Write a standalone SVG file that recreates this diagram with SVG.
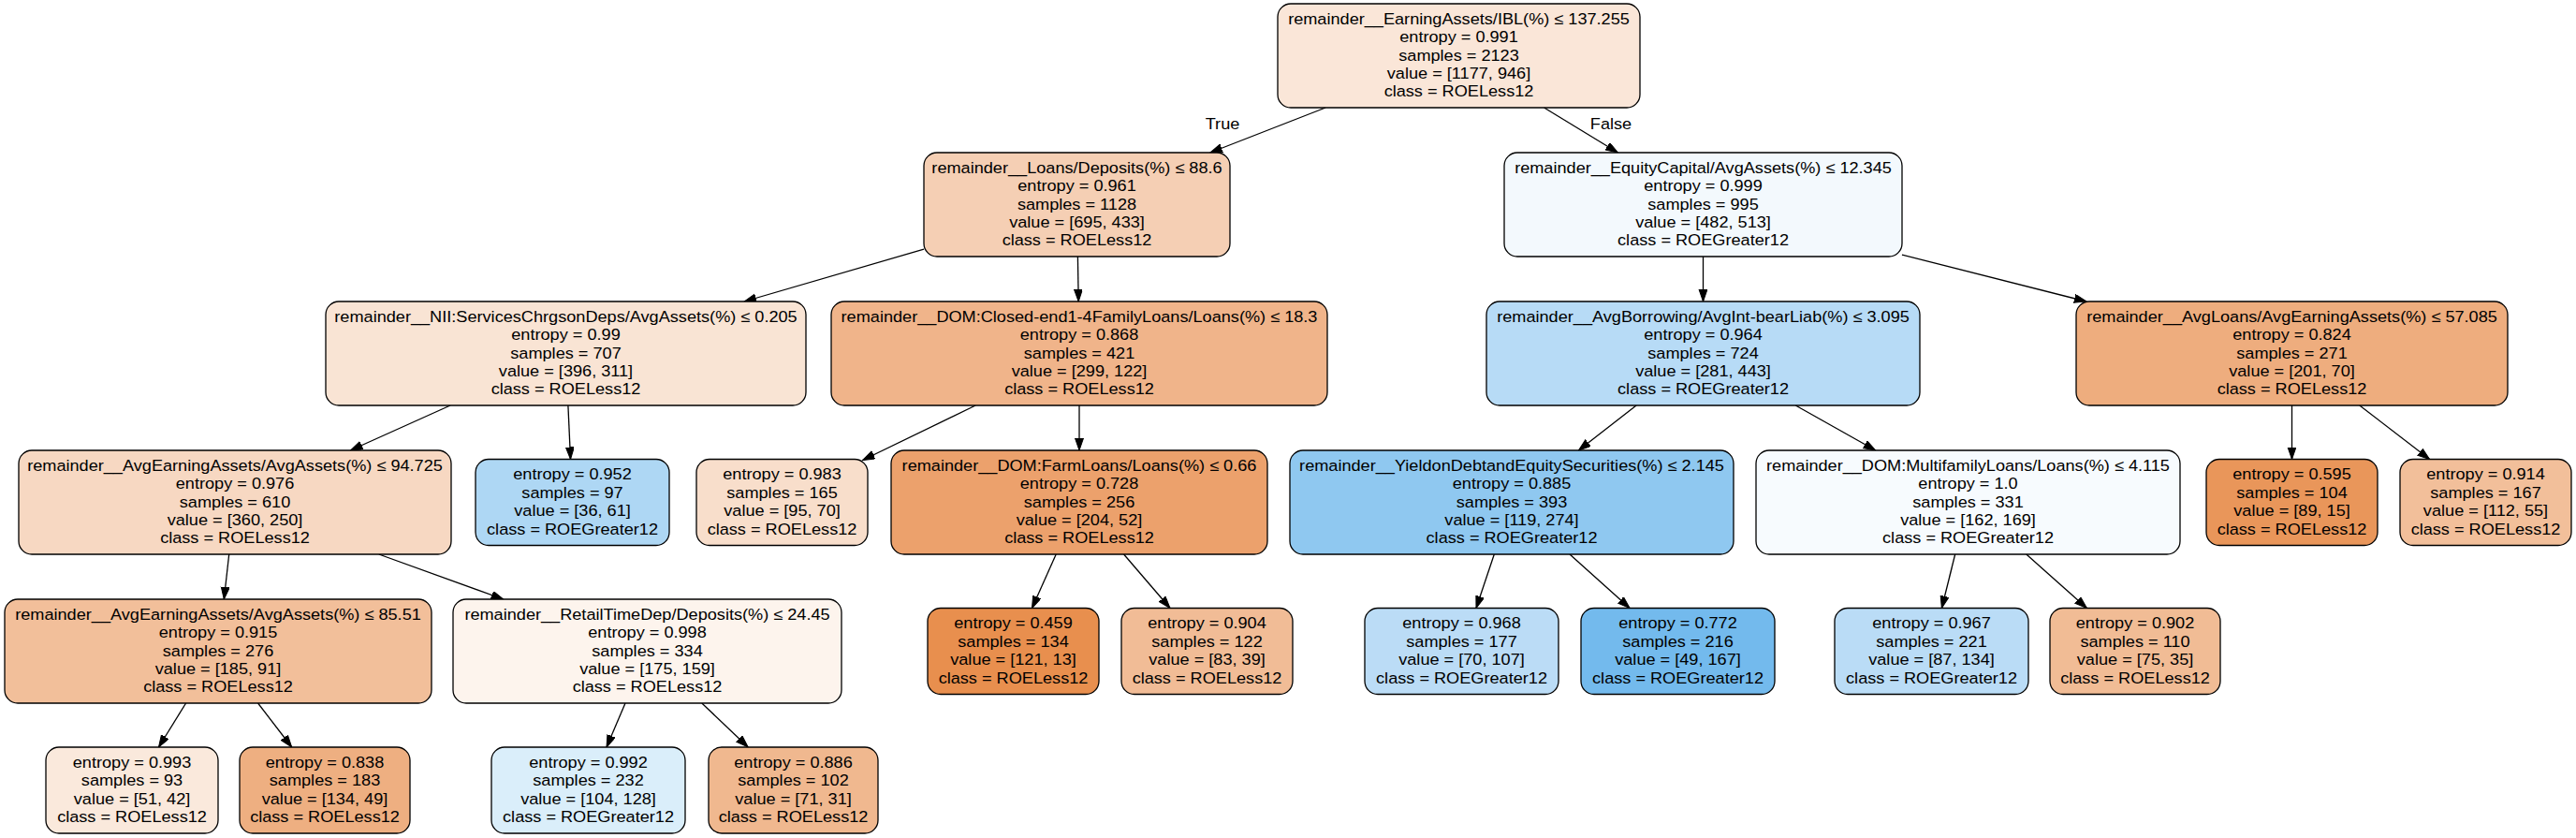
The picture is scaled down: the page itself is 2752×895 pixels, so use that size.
<svg xmlns="http://www.w3.org/2000/svg" width="2752" height="895" viewBox="0 0 2752 895">
<style>
.bx{stroke:#000;stroke-width:1.3}
.t{font-family:"Liberation Sans",Arial,Helvetica,sans-serif;font-size:16.5px;fill:#000;text-anchor:middle}
.e{stroke:#000;stroke-width:1.3;fill:none;marker-end:url(#ah)}
</style>
<defs>
<marker id="ah" markerUnits="userSpaceOnUse" markerWidth="14" markerHeight="10" refX="13" refY="4.5" orient="auto">
<path d="M0,0 L13,4.5 L0,9 z" fill="#000" stroke="#000" stroke-width="1"/>
</marker>
</defs>
<rect width="2752" height="895" fill="#fff"/>
<g id="edges">
<line class="e" x1="1416.1" y1="115" x2="1292.9" y2="163"/>
<line class="e" x1="1649.6" y1="115" x2="1728.4" y2="163"/>
<line class="e" x1="987" y1="266.1" x2="795.1" y2="322"/>
<line class="e" x1="1151.4" y1="274" x2="1152.2" y2="322"/>
<line class="e" x1="1819.5" y1="274" x2="1819.5" y2="322"/>
<line class="e" x1="2032" y1="272.2" x2="2228.9" y2="322"/>
<line class="e" x1="481.1" y1="433" x2="374.4" y2="481"/>
<line class="e" x1="606.9" y1="433" x2="609.5" y2="490.5"/>
<line class="e" x1="1042.2" y1="433" x2="921.5" y2="491.5"/>
<line class="e" x1="1153" y1="433" x2="1153" y2="481"/>
<line class="e" x1="1748.1" y1="433" x2="1686.4" y2="481"/>
<line class="e" x1="1918.3" y1="433" x2="2003.7" y2="481"/>
<line class="e" x1="2448.5" y1="433" x2="2448.5" y2="490.5"/>
<line class="e" x1="2520.8" y1="433" x2="2595.6" y2="490.5"/>
<line class="e" x1="244.7" y1="592" x2="239.3" y2="640"/>
<line class="e" x1="404.8" y1="592" x2="537.7" y2="640"/>
<line class="e" x1="1128.2" y1="592" x2="1102.5" y2="649.5"/>
<line class="e" x1="1200.6" y1="592" x2="1250" y2="649.5"/>
<line class="e" x1="1596.3" y1="592" x2="1577" y2="649.5"/>
<line class="e" x1="1677" y1="592" x2="1741.1" y2="649.5"/>
<line class="e" x1="2088.7" y1="592" x2="2074.4" y2="649.5"/>
<line class="e" x1="2164.8" y1="592" x2="2229.4" y2="649.5"/>
<line class="e" x1="198.6" y1="751" x2="169.5" y2="798"/>
<line class="e" x1="275.6" y1="751" x2="311.7" y2="798"/>
<line class="e" x1="668" y1="751" x2="648" y2="798"/>
<line class="e" x1="749.8" y1="751" x2="799.2" y2="798"/>
<text class="t" transform="translate(1306,137.5) scale(1.1 1)">True</text>
<text class="t" transform="translate(1721,137.5) scale(1.1 1)">False</text>
</g>

<g id="n0" transform="translate(1558.5,59.5)">
<rect class="bx" x="-193.5" y="-55.5" width="387" height="111" rx="14" fill="#fae6d8"/>
<text class="t" transform="scale(1.1 1)"><tspan x="0" y="-33.8">remainder__EarningAssets/IBL(%) ≤ 137.255</tspan><tspan x="0" y="-14.4">entropy = 0.991</tspan><tspan x="0" y="5">samples = 2123</tspan><tspan x="0" y="24.4">value = [1177, 946]</tspan><tspan x="0" y="43.8">class = ROELess12</tspan></text>
</g>

<g id="n1" transform="translate(1150.5,218.5)">
<rect class="bx" x="-163.5" y="-55.5" width="327" height="111" rx="14" fill="#f5cfb4"/>
<text class="t" transform="scale(1.1 1)"><tspan x="0" y="-33.8">remainder__Loans/Deposits(%) ≤ 88.6</tspan><tspan x="0" y="-14.4">entropy = 0.961</tspan><tspan x="0" y="5">samples = 1128</tspan><tspan x="0" y="24.4">value = [695, 433]</tspan><tspan x="0" y="43.8">class = ROELess12</tspan></text>
</g>

<g id="n16" transform="translate(1819.5,218.5)">
<rect class="bx" x="-212.5" y="-55.5" width="425" height="111" rx="14" fill="#f3f9fd"/>
<text class="t" transform="scale(1.1 1)"><tspan x="0" y="-33.8">remainder__EquityCapital/AvgAssets(%) ≤ 12.345</tspan><tspan x="0" y="-14.4">entropy = 0.999</tspan><tspan x="0" y="5">samples = 995</tspan><tspan x="0" y="24.4">value = [482, 513]</tspan><tspan x="0" y="43.8">class = ROEGreater12</tspan></text>
</g>

<g id="n2" transform="translate(604.5,377.5)">
<rect class="bx" x="-256.5" y="-55.5" width="513" height="111" rx="14" fill="#f9e4d4"/>
<text class="t" transform="scale(1.1 1)"><tspan x="0" y="-33.8">remainder__NII:ServicesChrgsonDeps/AvgAssets(%) ≤ 0.205</tspan><tspan x="0" y="-14.4">entropy = 0.99</tspan><tspan x="0" y="5">samples = 707</tspan><tspan x="0" y="24.4">value = [396, 311]</tspan><tspan x="0" y="43.8">class = ROELess12</tspan></text>
</g>

<g id="n11" transform="translate(1153,377.5)">
<rect class="bx" x="-265" y="-55.5" width="530" height="111" rx="14" fill="#f0b48a"/>
<text class="t" transform="scale(1.1 1)"><tspan x="0" y="-33.8">remainder__DOM:Closed-end1-4FamilyLoans/Loans(%) ≤ 18.3</tspan><tspan x="0" y="-14.4">entropy = 0.868</tspan><tspan x="0" y="5">samples = 421</tspan><tspan x="0" y="24.4">value = [299, 122]</tspan><tspan x="0" y="43.8">class = ROELess12</tspan></text>
</g>

<g id="n17" transform="translate(1819.5,377.5)">
<rect class="bx" x="-231.5" y="-55.5" width="463" height="111" rx="14" fill="#b7dbf6"/>
<text class="t" transform="scale(1.1 1)"><tspan x="0" y="-33.8">remainder__AvgBorrowing/AvgInt-bearLiab(%) ≤ 3.095</tspan><tspan x="0" y="-14.4">entropy = 0.964</tspan><tspan x="0" y="5">samples = 724</tspan><tspan x="0" y="24.4">value = [281, 443]</tspan><tspan x="0" y="43.8">class = ROEGreater12</tspan></text>
</g>

<g id="n24" transform="translate(2448.5,377.5)">
<rect class="bx" x="-230.5" y="-55.5" width="461" height="111" rx="14" fill="#eead7e"/>
<text class="t" transform="scale(1.1 1)"><tspan x="0" y="-33.8">remainder__AvgLoans/AvgEarningAssets(%) ≤ 57.085</tspan><tspan x="0" y="-14.4">entropy = 0.824</tspan><tspan x="0" y="5">samples = 271</tspan><tspan x="0" y="24.4">value = [201, 70]</tspan><tspan x="0" y="43.8">class = ROELess12</tspan></text>
</g>

<g id="n3" transform="translate(251,536.5)">
<rect class="bx" x="-231" y="-55.5" width="462" height="111" rx="14" fill="#f7d8c2"/>
<text class="t" transform="scale(1.1 1)"><tspan x="0" y="-33.8">remainder__AvgEarningAssets/AvgAssets(%) ≤ 94.725</tspan><tspan x="0" y="-14.4">entropy = 0.976</tspan><tspan x="0" y="5">samples = 610</tspan><tspan x="0" y="24.4">value = [360, 250]</tspan><tspan x="0" y="43.8">class = ROELess12</tspan></text>
</g>

<g id="n10" transform="translate(611.5,536.5)">
<rect class="bx" x="-103.5" y="-46" width="207" height="92" rx="14" fill="#aed7f4"/>
<text class="t" transform="scale(1.1 1)"><tspan x="0" y="-24.1">entropy = 0.952</tspan><tspan x="0" y="-4.7">samples = 97</tspan><tspan x="0" y="14.7">value = [36, 61]</tspan><tspan x="0" y="34.1">class = ROEGreater12</tspan></text>
</g>

<g id="n12" transform="translate(835.5,536.5)">
<rect class="bx" x="-91.5" y="-46" width="183" height="92" rx="14" fill="#f8decb"/>
<text class="t" transform="scale(1.1 1)"><tspan x="0" y="-24.1">entropy = 0.983</tspan><tspan x="0" y="-4.7">samples = 165</tspan><tspan x="0" y="14.7">value = [95, 70]</tspan><tspan x="0" y="34.1">class = ROELess12</tspan></text>
</g>

<g id="n13" transform="translate(1153,536.5)">
<rect class="bx" x="-201" y="-55.5" width="402" height="111" rx="14" fill="#eca16c"/>
<text class="t" transform="scale(1.1 1)"><tspan x="0" y="-33.8">remainder__DOM:FarmLoans/Loans(%) ≤ 0.66</tspan><tspan x="0" y="-14.4">entropy = 0.728</tspan><tspan x="0" y="5">samples = 256</tspan><tspan x="0" y="24.4">value = [204, 52]</tspan><tspan x="0" y="43.8">class = ROELess12</tspan></text>
</g>

<g id="n18" transform="translate(1615,536.5)">
<rect class="bx" x="-237" y="-55.5" width="474" height="111" rx="14" fill="#8fc8f0"/>
<text class="t" transform="scale(1.1 1)"><tspan x="0" y="-33.8">remainder__YieldonDebtandEquitySecurities(%) ≤ 2.145</tspan><tspan x="0" y="-14.4">entropy = 0.885</tspan><tspan x="0" y="5">samples = 393</tspan><tspan x="0" y="24.4">value = [119, 274]</tspan><tspan x="0" y="43.8">class = ROEGreater12</tspan></text>
</g>

<g id="n21" transform="translate(2102.5,536.5)">
<rect class="bx" x="-226.5" y="-55.5" width="453" height="111" rx="14" fill="#f7fbfe"/>
<text class="t" transform="scale(1.1 1)"><tspan x="0" y="-33.8">remainder__DOM:MultifamilyLoans/Loans(%) ≤ 4.115</tspan><tspan x="0" y="-14.4">entropy = 1.0</tspan><tspan x="0" y="5">samples = 331</tspan><tspan x="0" y="24.4">value = [162, 169]</tspan><tspan x="0" y="43.8">class = ROEGreater12</tspan></text>
</g>

<g id="n25" transform="translate(2448.5,536.5)">
<rect class="bx" x="-91.5" y="-46" width="183" height="92" rx="14" fill="#e9965a"/>
<text class="t" transform="scale(1.1 1)"><tspan x="0" y="-24.1">entropy = 0.595</tspan><tspan x="0" y="-4.7">samples = 104</tspan><tspan x="0" y="14.7">value = [89, 15]</tspan><tspan x="0" y="34.1">class = ROELess12</tspan></text>
</g>

<g id="n26" transform="translate(2655.5,536.5)">
<rect class="bx" x="-91.5" y="-46" width="183" height="92" rx="14" fill="#f2bf9a"/>
<text class="t" transform="scale(1.1 1)"><tspan x="0" y="-24.1">entropy = 0.914</tspan><tspan x="0" y="-4.7">samples = 167</tspan><tspan x="0" y="14.7">value = [112, 55]</tspan><tspan x="0" y="34.1">class = ROELess12</tspan></text>
</g>

<g id="n4" transform="translate(233,695.5)">
<rect class="bx" x="-228" y="-55.5" width="456" height="111" rx="14" fill="#f2bf9a"/>
<text class="t" transform="scale(1.1 1)"><tspan x="0" y="-33.8">remainder__AvgEarningAssets/AvgAssets(%) ≤ 85.51</tspan><tspan x="0" y="-14.4">entropy = 0.915</tspan><tspan x="0" y="5">samples = 276</tspan><tspan x="0" y="24.4">value = [185, 91]</tspan><tspan x="0" y="43.8">class = ROELess12</tspan></text>
</g>

<g id="n7" transform="translate(691.5,695.5)">
<rect class="bx" x="-207.5" y="-55.5" width="415" height="111" rx="14" fill="#fdf4ed"/>
<text class="t" transform="scale(1.1 1)"><tspan x="0" y="-33.8">remainder__RetailTimeDep/Deposits(%) ≤ 24.45</tspan><tspan x="0" y="-14.4">entropy = 0.998</tspan><tspan x="0" y="5">samples = 334</tspan><tspan x="0" y="24.4">value = [175, 159]</tspan><tspan x="0" y="43.8">class = ROELess12</tspan></text>
</g>

<g id="n14" transform="translate(1082.5,695.5)">
<rect class="bx" x="-91.5" y="-46" width="183" height="92" rx="14" fill="#e88f4e"/>
<text class="t" transform="scale(1.1 1)"><tspan x="0" y="-24.1">entropy = 0.459</tspan><tspan x="0" y="-4.7">samples = 134</tspan><tspan x="0" y="14.7">value = [121, 13]</tspan><tspan x="0" y="34.1">class = ROELess12</tspan></text>
</g>

<g id="n15" transform="translate(1289.5,695.5)">
<rect class="bx" x="-91.5" y="-46" width="183" height="92" rx="14" fill="#f1bc96"/>
<text class="t" transform="scale(1.1 1)"><tspan x="0" y="-24.1">entropy = 0.904</tspan><tspan x="0" y="-4.7">samples = 122</tspan><tspan x="0" y="14.7">value = [83, 39]</tspan><tspan x="0" y="34.1">class = ROELess12</tspan></text>
</g>

<g id="n19" transform="translate(1561.5,695.5)">
<rect class="bx" x="-103.5" y="-46" width="207" height="92" rx="14" fill="#bbdcf6"/>
<text class="t" transform="scale(1.1 1)"><tspan x="0" y="-24.1">entropy = 0.968</tspan><tspan x="0" y="-4.7">samples = 177</tspan><tspan x="0" y="14.7">value = [70, 107]</tspan><tspan x="0" y="34.1">class = ROEGreater12</tspan></text>
</g>

<g id="n20" transform="translate(1792.5,695.5)">
<rect class="bx" x="-103.5" y="-46" width="207" height="92" rx="14" fill="#73baed"/>
<text class="t" transform="scale(1.1 1)"><tspan x="0" y="-24.1">entropy = 0.772</tspan><tspan x="0" y="-4.7">samples = 216</tspan><tspan x="0" y="14.7">value = [49, 167]</tspan><tspan x="0" y="34.1">class = ROEGreater12</tspan></text>
</g>

<g id="n22" transform="translate(2063.5,695.5)">
<rect class="bx" x="-103.5" y="-46" width="207" height="92" rx="14" fill="#badcf6"/>
<text class="t" transform="scale(1.1 1)"><tspan x="0" y="-24.1">entropy = 0.967</tspan><tspan x="0" y="-4.7">samples = 221</tspan><tspan x="0" y="14.7">value = [87, 134]</tspan><tspan x="0" y="34.1">class = ROEGreater12</tspan></text>
</g>

<g id="n23" transform="translate(2281,695.5)">
<rect class="bx" x="-91" y="-46" width="182" height="92" rx="14" fill="#f1bc95"/>
<text class="t" transform="scale(1.1 1)"><tspan x="0" y="-24.1">entropy = 0.902</tspan><tspan x="0" y="-4.7">samples = 110</tspan><tspan x="0" y="14.7">value = [75, 35]</tspan><tspan x="0" y="34.1">class = ROELess12</tspan></text>
</g>

<g id="n5" transform="translate(141,844)">
<rect class="bx" x="-92" y="-46" width="184" height="92" rx="14" fill="#fae9dc"/>
<text class="t" transform="scale(1.1 1)"><tspan x="0" y="-24.1">entropy = 0.993</tspan><tspan x="0" y="-4.7">samples = 93</tspan><tspan x="0" y="14.7">value = [51, 42]</tspan><tspan x="0" y="34.1">class = ROELess12</tspan></text>
</g>

<g id="n6" transform="translate(347,844)">
<rect class="bx" x="-91" y="-46" width="182" height="92" rx="14" fill="#eeaf81"/>
<text class="t" transform="scale(1.1 1)"><tspan x="0" y="-24.1">entropy = 0.838</tspan><tspan x="0" y="-4.7">samples = 183</tspan><tspan x="0" y="14.7">value = [134, 49]</tspan><tspan x="0" y="34.1">class = ROELess12</tspan></text>
</g>

<g id="n8" transform="translate(628.5,844)">
<rect class="bx" x="-103.5" y="-46" width="207" height="92" rx="14" fill="#daeefa"/>
<text class="t" transform="scale(1.1 1)"><tspan x="0" y="-24.1">entropy = 0.992</tspan><tspan x="0" y="-4.7">samples = 232</tspan><tspan x="0" y="14.7">value = [104, 128]</tspan><tspan x="0" y="34.1">class = ROEGreater12</tspan></text>
</g>

<g id="n9" transform="translate(847.5,844)">
<rect class="bx" x="-90.5" y="-46" width="181" height="92" rx="14" fill="#f0b88f"/>
<text class="t" transform="scale(1.1 1)"><tspan x="0" y="-24.1">entropy = 0.886</tspan><tspan x="0" y="-4.7">samples = 102</tspan><tspan x="0" y="14.7">value = [71, 31]</tspan><tspan x="0" y="34.1">class = ROELess12</tspan></text>
</g>
</svg>
